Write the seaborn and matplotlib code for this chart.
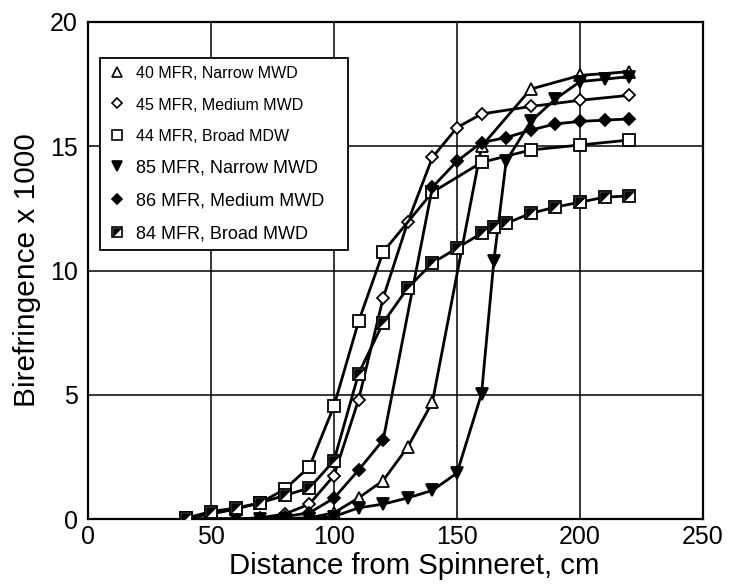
import numpy as np
import pandas as pd
import matplotlib
matplotlib.use("Agg")
import matplotlib.pyplot as plt
import seaborn as sns
from matplotlib.lines import Line2D
from matplotlib.path import Path
from matplotlib.legend_handler import HandlerTuple

# ---- data ----
labels = ["40 MFR, Narrow MWD", "45 MFR, Medium MWD", "44 MFR, Broad MDW",
          "85 MFR, Narrow MWD", "86 MFR, Medium MWD", "84 MFR, Broad MWD"]

x_40 = [40, 50, 60, 70, 80, 90, 100, 110, 120, 130, 140, 160, 180, 200, 220]
y_40 = [0, 0, 0, 0, 0.02, 0.05, 0.25, 0.85, 1.55, 2.9, 4.7, 15.0, 17.3, 17.85, 18.0]

x_45 = [40, 50, 60, 70, 80, 90, 100, 110, 120, 130, 140, 150, 160, 180, 200, 220]
y_45 = [0, 0, 0, 0.05, 0.2, 0.6, 1.75, 4.8, 8.9, 11.95, 14.55, 15.75, 16.3, 16.6, 16.85, 17.05]

x_44 = [40, 50, 60, 70, 80, 90, 100, 110, 120, 140, 160, 180, 200, 220]
y_44 = [0.05, 0.2, 0.4, 0.65, 1.2, 2.1, 4.55, 7.95, 10.75, 13.15, 14.35, 14.85, 15.05, 15.25]

x_85 = [40, 50, 60, 70, 80, 90, 100, 110, 120, 130, 140, 150, 160, 165, 170, 180, 190, 200, 210, 220]
y_85 = [0, 0, 0, 0, 0, 0.02, 0.1, 0.45, 0.6, 0.85, 1.15, 1.85, 5.05, 10.4, 14.4, 16.0, 16.9, 17.6, 17.7, 17.8]

x_86 = [40, 50, 60, 70, 80, 90, 100, 110, 120, 140, 150, 160, 170, 180, 190, 200, 210, 220]
y_86 = [0, 0, 0, 0.02, 0.1, 0.25, 0.84, 1.97, 3.18, 13.35, 14.4, 15.15, 15.35, 15.65, 15.9, 16.0, 16.05, 16.1]

x_84 = [40, 50, 60, 70, 80, 90, 100, 110, 120, 130, 140, 150, 160, 165, 170, 180, 190, 200, 210, 220]
y_84 = [0.04, 0.3, 0.44, 0.65, 0.95, 1.25, 2.35, 5.85, 7.9, 9.3, 10.3, 10.9, 11.5, 11.75, 11.9, 12.3, 12.55, 12.75, 12.95, 13.0]

x_ticks = [0, 50, 100, 150, 200, 250]
y_ticks = [0, 5, 10, 15, 20]

# ---- style ----
sns.set_style("white")
plt.rcParams['font.family'] = ['Liberation Sans', 'DejaVu Sans']
plt.rcParams.update({'text.color': 'black', 'axes.labelcolor': 'black',
                     'xtick.color': 'black', 'ytick.color': 'black'})

fig = plt.figure(figsize=(7.29, 5.88), dpi=100)
ax = fig.add_axes([0.1207, 0.1173, 0.8436, 0.8453])

half_tri = Path([(-1, -1), (-1, 1), (1, 1), (-1, -1)],
                [Path.MOVETO, Path.LINETO, Path.LINETO, Path.CLOSEPOLY])

series = [
    (x_40, y_40, '^', 'white'),
    (x_45, y_45, 'D', 'white'),
    (x_44, y_44, 's', 'white'),
    (x_85, y_85, 'v', 'black'),
    (x_86, y_86, 'D', 'black'),
    (x_84, y_84, 's', 'white'),
]
msize = {'^': 8, 'D': 6, 's': 8, 'v': 8}

for (xs, ys, m, fc), lab in zip(series, labels):
    df = pd.DataFrame({"x": xs, "y": ys})
    sns.lineplot(data=df, x="x", y="y", ax=ax, color='black', linewidth=2.0,
                 marker=m, markersize=msize[m], markerfacecolor=fc,
                 markeredgecolor='black', markeredgewidth=1.3, zorder=3)

# half-filled overlay for 84 MFR
df84 = pd.DataFrame({"x": x_84, "y": y_84})
sns.lineplot(data=df84, x="x", y="y", ax=ax, color='black', linestyle='',
             marker=half_tri, markersize=7, markerfacecolor='black',
             markeredgecolor='black', markeredgewidth=0.5, zorder=4)

ax.set_xlim(0, 250)
ax.set_ylim(0, 20)
ax.set_xticks(x_ticks)
ax.set_yticks(y_ticks)
ax.set_xticks(np.arange(0, 251, 10), minor=True)
ax.set_yticks(np.arange(0, 21, 1), minor=True)
ax.grid(True, which='major', color='black', linewidth=1.1)
ax.set_axisbelow(True)
for s in ax.spines.values():
    s.set_color('black')
    s.set_linewidth(1.6)
ax.tick_params(which='major', direction='out', length=4, width=1.2, labelsize=18, colors='black')
ax.tick_params(which='minor', direction='in', length=4, width=1.0, colors='black')
ax.tick_params(axis='x', pad=0)

ax.set_xlabel("Distance from Spinneret, cm", fontsize=21.2)
ax.xaxis.set_label_coords(0.53, -0.066, transform=ax.transAxes)
ax.xaxis.label.set_va('top')
ax.set_ylabel("Birefringence x 1000", fontsize=21.5, labelpad=6)

# legend
handles = []
for i, (xs, ys, m, fc) in enumerate(series):
    if i == 5:
        h1 = Line2D([], [], linestyle='', marker='s', markersize=7, markerfacecolor='white',
                    markeredgecolor='black', markeredgewidth=1.2)
        h2 = Line2D([], [], linestyle='', marker=half_tri, markersize=6, markerfacecolor='black',
                    markeredgecolor='black', markeredgewidth=0.5)
        handles.append((h1, h2))
    else:
        handles.append(Line2D([], [], linestyle='', marker=m, markersize=msize[m] - 1,
                              markerfacecolor=fc, markeredgecolor='black', markeredgewidth=1.2))
leg = ax.legend(handles, labels, loc='upper left', bbox_to_anchor=(0.0195, 0.5, 0.4035, 0.4276),
                mode='expand', frameon=True, fancybox=False, edgecolor='black', framealpha=1,
                fontsize=13, handlelength=1.0, handletextpad=0.55,
                labelspacing=0.87, borderpad=0.42, borderaxespad=0,
                handler_map={tuple: HandlerTuple(ndivide=1)})
leg.get_frame().set_linewidth(1.3)
for t in leg.get_texts()[:3]:
    t.set_fontsize(11.5)

fig.savefig("out.png", dpi=100)
